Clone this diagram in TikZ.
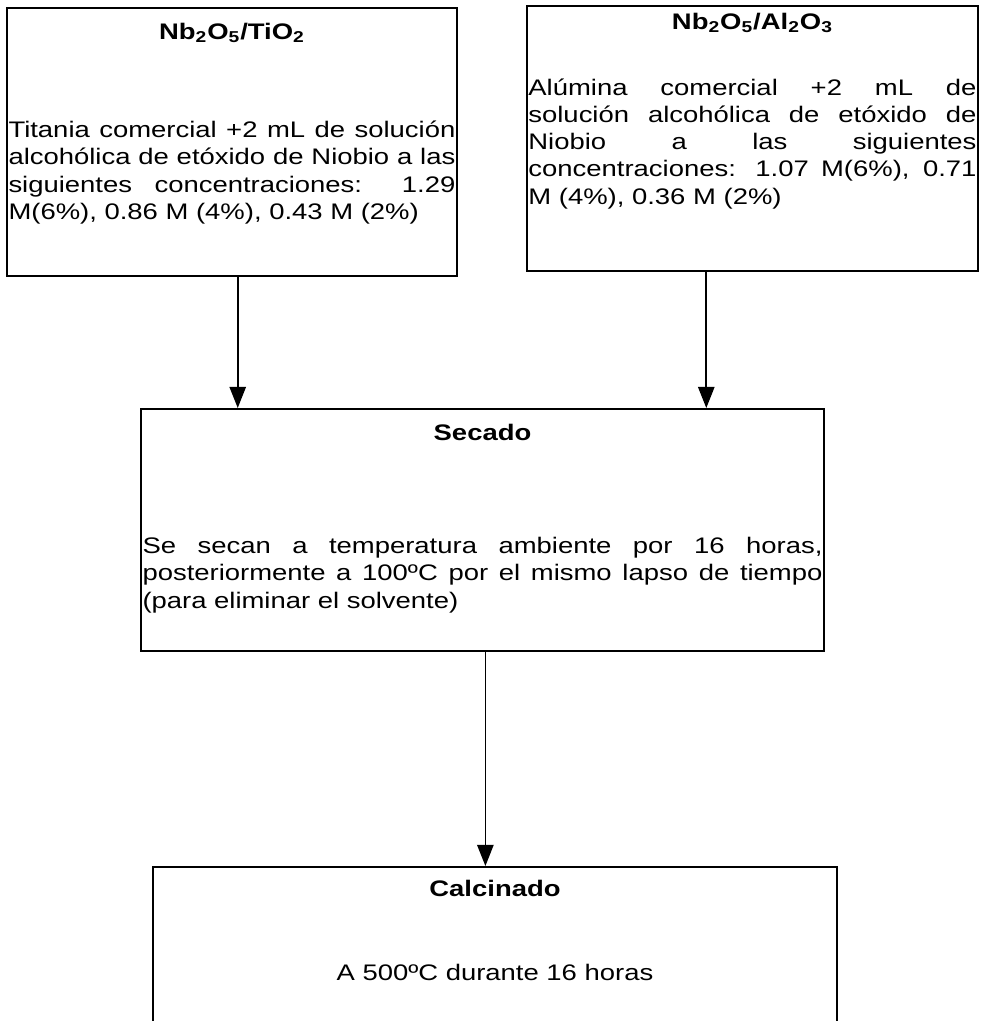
\documentclass[tikz,border=0pt]{standalone}
\usepackage{fontspec}
\setmainfont[FakeStretch=1.22]{Liberation Sans}
\usetikzlibrary{positioning, arrows.meta}
\hyphenpenalty=10000
\exhyphenpenalty=10000
\tolerance=10000

\begin{document}
\begin{tikzpicture}[x=0.52pt, y=-0.52pt,
    font=\fontsize{11.7}{14.2}\selectfont,
    caja/.style={draw, line width=1pt, anchor=north west, inner sep=0pt},
    titulo/.style={font=\fontsize{11.7}{14.2}\selectfont\bfseries, inner sep=0pt},
    texto/.style={align=justify, inner sep=0pt},
    flecha/.style={line width=0.9pt, -{Triangle[width=8.5pt,length=11pt]}}]
    \useasboundingbox (0,0) rectangle (984,1021);
    \clip (0,0) rectangle (984,1021);
    \node[caja, minimum width=234pt, minimum height=139.4pt] (tio) at (6,7) {};
    \node[caja, minimum width=234.5pt, minimum height=137.8pt] (alu) at (526,5) {};
    \node[caja, minimum width=355.2pt, minimum height=125.8pt] (sec) at (140,408) {};
    \node[caja, minimum width=355.7pt, minimum height=90.5pt] (cal) at (152,866) {};
    \node[titulo, below=8pt of tio.north] (tiotit) {Nb\textsubscript{2}O\textsubscript{5}/TiO\textsubscript{2}};
    \node[texto, text width=232.4pt, below=59pt of tio.north] (tiotxt)
        {Titania comercial +2 mL de solución\linebreak alcohólica de etóxido de Niobio a las\linebreak siguientes concentraciones: 1.29\linebreak M(6\%), 0.86 M (4\%), 0.43 M (2\%)};
    \node[titulo, below=4pt of alu.north] (alutit) {Nb\textsubscript{2}O\textsubscript{5}/Al\textsubscript{2}O\textsubscript{3}};
    \node[texto, text width=233pt, below=38pt of alu.north] (alutxt)
        {Alúmina comercial +2 mL de\linebreak solución alcohólica de etóxido de\linebreak Niobio a las siguientes\linebreak concentraciones: 1.07 M(6\%), 0.71\linebreak M (4\%), 0.36 M (2\%)};
    \node[titulo, below=8pt of sec.north] (sectit) {Secado};
    \node[texto, text width=353.6pt, below=67pt of sec.north] (sectxt)
        {Se secan a temperatura ambiente por 16 horas,\linebreak posteriormente a 100ºC por el mismo lapso de tiempo\linebreak (para eliminar el solvente)};
    \node[titulo, below=7pt of cal.north] (caltit) {Calcinado};
    \node[inner sep=0pt, below=51pt of cal.north] (caltxt) {A 500ºC durante 16 horas};
    \draw[flecha] ([xshift=3pt]tio.south) -- ([xshift=3pt]tio.south |- sec.north);
    \draw[flecha] ([xshift=-24pt]alu.south) -- ([xshift=-24pt]alu.south |- sec.north);
    \draw[flecha] ([xshift=1.5pt]sec.south) -- ([xshift=1.5pt]sec.south |- cal.north);
\end{tikzpicture}
\end{document}
